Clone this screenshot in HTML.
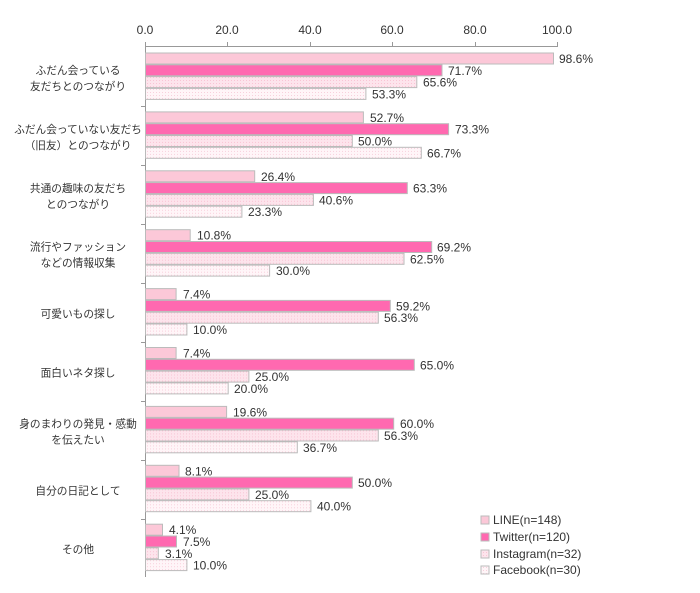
<!DOCTYPE html><html><head><meta charset="utf-8"><style>body{margin:0;background:#fff}svg{font-family:"Liberation Sans","Noto Sans CJK JP",sans-serif}</style></head><body>
<svg width="700" height="588" xmlns="http://www.w3.org/2000/svg">
<defs>
<pattern id="d1" width="3" height="3" patternUnits="userSpaceOnUse"><rect width="3" height="3" fill="#fde4ec"/><rect width="1" height="1" fill="#f9c4d4"/></pattern>
<pattern id="d2" width="3" height="3" patternUnits="userSpaceOnUse"><rect width="3" height="3" fill="#fff5f8"/><rect width="1" height="1" fill="#f8d0dc"/></pattern>
<style>.a{fill:#fcc8d8;stroke:#bbb}.b{fill:#ff69b0;stroke:#bbb}.c{fill:url(#d1);stroke:#bbb}.d{fill:url(#d2);stroke:#bbb}.v{font-size:12px;fill:#333}.l{font-size:10.7px;fill:#333;text-anchor:middle}</style>
</defs>
<g font-size="12" fill="#333" text-anchor="middle">
<text x="145" y="34">0.0</text><text x="227" y="34">20.0</text><text x="310" y="34">40.0</text><text x="392" y="34">60.0</text><text x="475" y="34">80.0</text><text x="557" y="34">100.0</text>
</g>
<g stroke="#999" stroke-width="1">
<line x1="145" y1="46.5" x2="557" y2="46.5"/>
<line x1="145.5" y1="46" x2="145.5" y2="577"/>
<line x1="145.5" y1="42" x2="145.5" y2="47"/><line x1="227.5" y1="42" x2="227.5" y2="47"/><line x1="310.5" y1="42" x2="310.5" y2="47"/><line x1="392.5" y1="42" x2="392.5" y2="47"/><line x1="475.5" y1="42" x2="475.5" y2="47"/><line x1="557.5" y1="42" x2="557.5" y2="47"/>
<line x1="141" y1="106.5" x2="146" y2="106.5"/><line x1="141" y1="165.5" x2="146" y2="165.5"/><line x1="141" y1="224.5" x2="146" y2="224.5"/><line x1="141" y1="283.5" x2="146" y2="283.5"/><line x1="141" y1="342.5" x2="146" y2="342.5"/><line x1="141" y1="401.5" x2="146" y2="401.5"/><line x1="141" y1="460.5" x2="146" y2="460.5"/><line x1="141" y1="519.5" x2="146" y2="519.5"/>
</g>

<g transform="translate(0,53)">
<rect class="a" x="145.5" y="0" width="408" height="11"/><text class="v" x="559" y="10">98.6%</text>
<rect class="b" x="145.5" y="11.8" width="296.5" height="11"/><text class="v" x="448" y="21.8">71.7%</text>
<rect class="c" x="145.5" y="23.6" width="271.3" height="11"/><text class="v" x="423" y="33.6">65.6%</text>
<rect class="d" x="145.5" y="35.4" width="220.4" height="11"/><text class="v" x="372" y="45.4">53.3%</text>
<text class="l" x="78" y="21">ふだん会っている</text><text class="l" x="78" y="37">友だちとのつながり</text>
</g>
<g transform="translate(0,111.9)">
<rect class="a" x="145.5" y="0" width="217.9" height="11"/><text class="v" x="370" y="10">52.7%</text>
<rect class="b" x="145.5" y="11.8" width="303.1" height="11"/><text class="v" x="455" y="21.8">73.3%</text>
<rect class="c" x="145.5" y="23.6" width="206.8" height="11"/><text class="v" x="358" y="33.6">50.0%</text>
<rect class="d" x="145.5" y="35.4" width="275.8" height="11"/><text class="v" x="427" y="45.4">66.7%</text>
<text class="l" x="78" y="21">ふだん会っていない友だち</text><text class="l" x="78" y="37">（旧友）とのつながり</text>
</g>
<g transform="translate(0,170.8)">
<rect class="a" x="145.5" y="0" width="109.2" height="11"/><text class="v" x="261" y="10">26.4%</text>
<rect class="b" x="145.5" y="11.8" width="261.8" height="11"/><text class="v" x="413" y="21.8">63.3%</text>
<rect class="c" x="145.5" y="23.6" width="167.9" height="11"/><text class="v" x="319" y="33.6">40.6%</text>
<rect class="d" x="145.5" y="35.4" width="96.4" height="11"/><text class="v" x="248" y="45.4">23.3%</text>
<text class="l" x="78" y="21">共通の趣味の友だち</text><text class="l" x="78" y="37">とのつながり</text>
</g>
<g transform="translate(0,229.7)">
<rect class="a" x="145.5" y="0" width="44.7" height="11"/><text class="v" x="197" y="10">10.8%</text>
<rect class="b" x="145.5" y="11.8" width="286.2" height="11"/><text class="v" x="437" y="21.8">69.2%</text>
<rect class="c" x="145.5" y="23.6" width="258.5" height="11"/><text class="v" x="410" y="33.6">62.5%</text>
<rect class="d" x="145.5" y="35.4" width="124.1" height="11"/><text class="v" x="276" y="45.4">30.0%</text>
<text class="l" x="78" y="21">流行やファッション</text><text class="l" x="78" y="37">などの情報収集</text>
</g>
<g transform="translate(0,288.6)">
<rect class="a" x="145.5" y="0" width="30.6" height="11"/><text class="v" x="183" y="10">7.4%</text>
<rect class="b" x="145.5" y="11.8" width="244.8" height="11"/><text class="v" x="396" y="21.8">59.2%</text>
<rect class="c" x="145.5" y="23.6" width="232.8" height="11"/><text class="v" x="384" y="33.6">56.3%</text>
<rect class="d" x="145.5" y="35.4" width="41.4" height="11"/><text class="v" x="193" y="45.4">10.0%</text>
<text class="l" x="78" y="29">可愛いもの探し</text>
</g>
<g transform="translate(0,347.5)">
<rect class="a" x="145.5" y="0" width="30.6" height="11"/><text class="v" x="183" y="10">7.4%</text>
<rect class="b" x="145.5" y="11.8" width="268.8" height="11"/><text class="v" x="420" y="21.8">65.0%</text>
<rect class="c" x="145.5" y="23.6" width="103.4" height="11"/><text class="v" x="255" y="33.6">25.0%</text>
<rect class="d" x="145.5" y="35.4" width="82.7" height="11"/><text class="v" x="234" y="45.4">20.0%</text>
<text class="l" x="78" y="29">面白いネタ探し</text>
</g>
<g transform="translate(0,406.4)">
<rect class="a" x="145.5" y="0" width="81.1" height="11"/><text class="v" x="233" y="10">19.6%</text>
<rect class="b" x="145.5" y="11.8" width="248.2" height="11"/><text class="v" x="400" y="21.8">60.0%</text>
<rect class="c" x="145.5" y="23.6" width="232.8" height="11"/><text class="v" x="384" y="33.6">56.3%</text>
<rect class="d" x="145.5" y="35.4" width="151.8" height="11"/><text class="v" x="303" y="45.4">36.7%</text>
<text class="l" x="78" y="21">身のまわりの発見・感動</text><text class="l" x="78" y="37">を伝えたい</text>
</g>
<g transform="translate(0,465.3)">
<rect class="a" x="145.5" y="0" width="33.5" height="11"/><text class="v" x="185" y="10">8.1%</text>
<rect class="b" x="145.5" y="11.8" width="206.8" height="11"/><text class="v" x="358" y="21.8">50.0%</text>
<rect class="c" x="145.5" y="23.6" width="103.4" height="11"/><text class="v" x="255" y="33.6">25.0%</text>
<rect class="d" x="145.5" y="35.4" width="165.4" height="11"/><text class="v" x="317" y="45.4">40.0%</text>
<text class="l" x="78" y="29">自分の日記として</text>
</g>
<g transform="translate(0,524.2)">
<rect class="a" x="145.5" y="0" width="17" height="11"/><text class="v" x="169" y="10">4.1%</text>
<rect class="b" x="145.5" y="11.8" width="31" height="11"/><text class="v" x="183" y="21.8">7.5%</text>
<rect class="c" x="145.5" y="23.6" width="12.8" height="11"/><text class="v" x="165" y="33.6">3.1%</text>
<rect class="d" x="145.5" y="35.4" width="41.4" height="11"/><text class="v" x="193" y="45.4">10.0%</text>
<text class="l" x="78" y="29">その他</text>
</g>

<g font-size="12" fill="#333">
<rect x="481" y="516" width="8" height="8" fill="#fcc8d8" stroke="#bbb"/><text x="493" y="524">LINE(n=148)</text>
<rect x="481" y="533" width="8" height="8" fill="#ff69b0" stroke="#bbb"/><text x="493" y="541">Twitter(n=120)</text>
<rect x="481" y="550" width="8" height="8" fill="url(#d1)" stroke="#bbb"/><text x="493" y="558">Instagram(n=32)</text>
<rect x="481" y="566" width="8" height="8" fill="url(#d2)" stroke="#bbb"/><text x="493" y="574">Facebook(n=30)</text>
</g>
</svg></body></html>
